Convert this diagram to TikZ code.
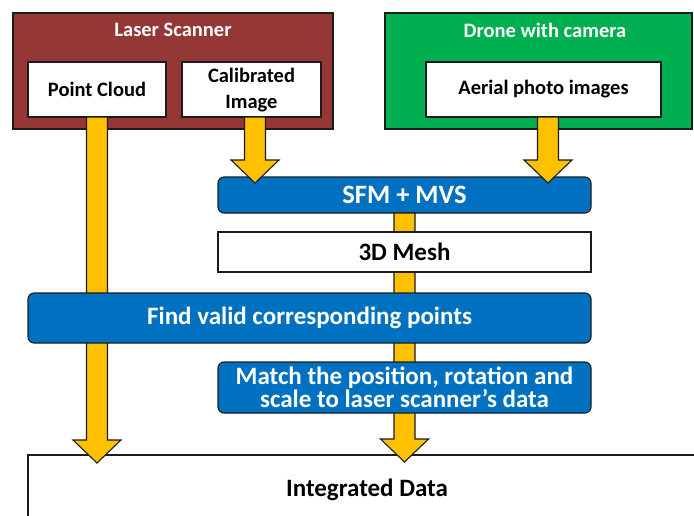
\documentclass[tikz,border=0pt]{standalone}
\usepackage{fontspec}
\setmainfont{Carlito}
\usetikzlibrary{calc}

\definecolor{edge}{HTML}{1C1C1C}
\definecolor{laserred}{HTML}{953735}
\definecolor{dronegreen}{HTML}{00B050}
\definecolor{stepblue}{HTML}{0070C0}
\definecolor{flowyellow}{HTML}{FFC000}

% thick block arrow from a start point down to a tip point (x taken from the start)
\newcommand\blockarrow[2]{%
  \draw[flowarrow] let \p1=(#1), \p2=(#2) in
    (\x1-10.5pt,\y1) -- (\x1-10.5pt,\y2+23pt) -- (\x1-24pt,\y2+23pt) --
    (\x1,\y2) -- (\x1+24pt,\y2+23pt) -- (\x1+10.5pt,\y2+23pt) --
    (\x1+10.5pt,\y1) -- cycle;}

\begin{document}
\begin{tikzpicture}[x=1pt,y=-1pt,
  basebox/.style={draw=edge, line width=1.1pt, inner sep=0pt, outer sep=0pt,
    anchor=north west, align=center},
  sourcebox/.style={basebox},
  whitebox/.style={basebox, fill=white,
    font=\bfseries\fontsize{20.5}{26}\selectfont},
  meshbox/.style={basebox, fill=white,
    font=\bfseries\fontsize{25}{26}\selectfont},
  stepbox/.style={basebox, fill=stepblue, rounded corners=6pt, text=white,
    font=\bfseries\fontsize{25}{23}\selectfont},
  title/.style={text=white, font=\bfseries\fontsize{20.5}{24}\selectfont},
  flowarrow/.style={draw=edge, line width=1.1pt, fill=flowyellow, line join=miter}
]
\path[use as bounding box, clip] (0,0) rectangle (694,515);

% source devices
\node[sourcebox, fill=laserred, minimum width=320, minimum height=116] (laser) at (13,13) {};
\node[sourcebox, fill=dronegreen, minimum width=307, minimum height=116] (drone) at (385,13) {};
\node[title] (lasertitle) at (173,30) {Laser Scanner};
\node[title] (dronetitle) at (545,30) {Drone with camera};

\node[whitebox, minimum width=138, minimum height=55] (pc) at (28,62) {Point Cloud};
\node[whitebox, minimum width=139, minimum height=55, text depth=2pt] (cal) at (182,62) {Calibrated\\Image};
\node[whitebox, minimum width=235, minimum height=55] (aerial) at (426,62) {Aerial photo images};

% reconstruction
\node[stepbox, minimum width=373, minimum height=36, font=\bfseries\fontsize{26.5}{26}\selectfont] (sfm) at (218,177) {SFM + MVS};
\node[meshbox, minimum width=678, minimum height=70] (integ) at (28,455) {Integrated Data};

% flows
\blockarrow{pc.south}{$(integ.north)+(0,8)$}
\blockarrow{[xshift=3.5pt]cal.south}{$(sfm.north)+(0,6)$}
\blockarrow{[xshift=4.5pt]aerial.south}{$(sfm.north)+(0,6)$}
\blockarrow{sfm.south}{$(integ.north)+(0,7)$}

\node[meshbox, minimum width=373, minimum height=40] (mesh) at (218,232) {3D Mesh};
\node[stepbox, minimum width=563, minimum height=50] (find) at (28,293) {Find valid corresponding points};
\node[stepbox, minimum width=373, minimum height=51] (match) at (218,362) {Match the position, rotation and\\scale to laser scanner’s data};
\end{tikzpicture}
\end{document}
